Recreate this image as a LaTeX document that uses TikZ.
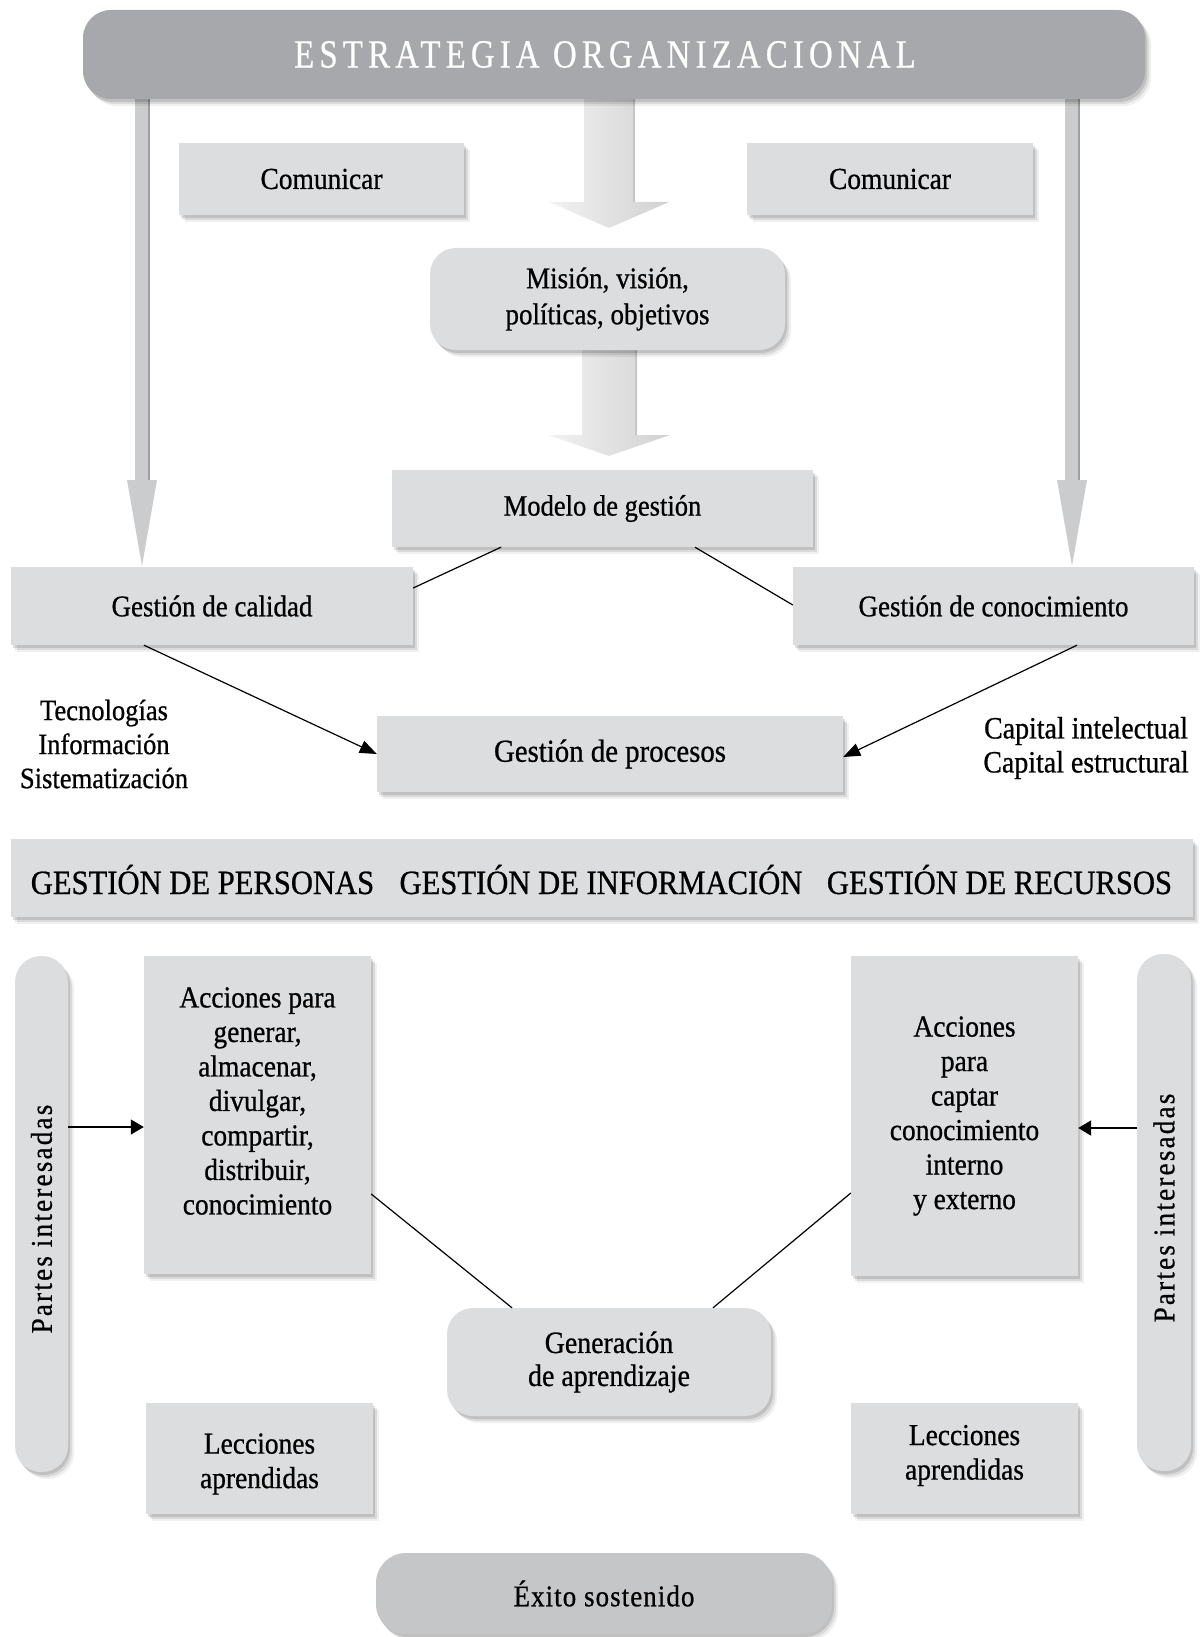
\documentclass[tikz,border=0pt]{standalone}
\usepackage{fontspec}
\setmainfont{Liberation Serif}[FakeStretch=0.9,FakeBold=0.7]
\newfontfamily\bannerfont{Liberation Serif}[FakeStretch=0.82,LetterSpace=13,FakeBold=0.5]
\newfontfamily\spacedfont{Liberation Serif}[FakeStretch=0.9,LetterSpace=7.5,FakeBold=0.7]
\newfontfamily\lightspaced{Liberation Serif}[FakeStretch=0.9,LetterSpace=3.5,FakeBold=0.7]
\usetikzlibrary{shadows,calc,arrows.meta}
\definecolor{boxgray}{RGB}{220,221,223}
\definecolor{bannergray}{RGB}{167,168,171}
\definecolor{exitogray}{RGB}{197,198,200}
\definecolor{thingray}{RGB}{203,204,206}
\definecolor{thinedge}{RGB}{158,159,162}
\newcommand{\fsz}[2]{\fontsize{#1}{#2}\selectfont}
\pgfdeclarelayer{bg}
\pgfsetlayers{bg,main}
\tikzset{
  softshadow/.style={
    drop shadow={shadow xshift=2pt,shadow yshift=-3pt,opacity=0.12,fill=black},
    drop shadow={shadow xshift=4pt,shadow yshift=-5pt,opacity=0.09,fill=black},
    drop shadow={shadow xshift=6pt,shadow yshift=-7pt,opacity=0.06,fill=black}},
  box/.style={softshadow, fill=boxgray, draw=none, inner sep=0pt, align=center, font={\fsz{30.5}{34.5}}},
  roundbox/.style={box, rounded corners=26pt},
  plain/.style={inner sep=0pt, align=center, font={\fsz{30.5}{34.5}}},
  conn/.style={line width=1.2pt, black},
  arr/.style={conn, -{Triangle[length=17pt,width=13pt]}},
  sidearr/.style={conn, -{Triangle[length=13pt,width=15pt]}},
  bigarrow/.style={left color=gray!10, right color=gray!36, draw=none},
}
\begin{document}
\begin{tikzpicture}[x=1pt,y=-1pt]
\useasboundingbox (0,0) rectangle (1200,1637);

% ---------- nodes ----------
\node[box, fill=bannergray, rounded corners=28pt, minimum width=1062pt, minimum height=89pt,
      text=white, font={\bannerfont\fsz{40}{42}}] (banner) at (614,54.5) {\hspace*{-18pt}ESTRATEGIA ORGANIZACIONAL};

\node[box, minimum width=285pt, minimum height=72pt] (com1) at (321.5,179) {Comunicar};
\node[box, minimum width=286pt, minimum height=72pt] (com2) at (890,179) {Comunicar};

\node[roundbox, minimum width=355pt, minimum height=102pt, font={\fsz{30}{36}}] (mision) at (607.5,299)
  {Misión, visión,\\políticas, objetivos};

\node[box, minimum width=421pt, minimum height=77pt, font={\fsz{29.5}{34}}] (modelo) at (602.5,508.5) {Modelo de gestión};

\node[box, minimum width=402pt, minimum height=78pt, font={\fsz{30}{34}}] (calidad) at (212,606) {Gestión de calidad};
\node[box, minimum width=401pt, minimum height=78pt, font={\fsz{30}{34}}] (conoc) at (993.5,606) {Gestión de conocimiento};

\node[box, minimum width=466pt, minimum height=76pt, font={\fsz{32}{34}}] (procesos) at (610,754) {Gestión de procesos};

\node[plain, font={\fsz{29.5}{34}}] (tec) at (104,744) {Tecnologías\\Información\\Sistematización};
\node[plain, font={\fsz{31}{34}}] (cap) at (1086,748) {Capital intelectual\\Capital estructural};

\node[box, minimum width=1182pt, minimum height=78pt] (gbar) at (602,878) {};
\node[plain, anchor=base, font={\fsz{34}{36}}] (g1) at (202.5,894) {GESTIÓN DE PERSONAS};
\node[plain, anchor=base, font={\fsz{34}{36}}] (g2) at (601,894) {GESTIÓN DE INFORMACIÓN};
\node[plain, anchor=base, font={\fsz{34}{36}}] (g3) at (999.5,894) {GESTIÓN DE RECURSOS};

\node[box, rounded corners=26pt, minimum width=53pt, minimum height=516pt] (pillL) at (41.5,1214) {};
\node[plain, rotate=90, font={\spacedfont\fsz{30}{34}}] (pLt) at (41.5,1219) {Partes interesadas};
\node[box, rounded corners=26pt, minimum width=54pt, minimum height=517pt] (pillR) at (1164,1212.5) {};
\node[plain, rotate=90, font={\spacedfont\fsz{30}{34}}] (pRt) at (1164,1208) {Partes interesadas};

\node[box, minimum width=227pt, minimum height=318pt] (accL) at (257.5,1115) {};
\node[plain] (accLt) at (257.5,1101)
  {Acciones para\\generar,\\almacenar,\\divulgar,\\compartir,\\distribuir,\\conocimiento};
\node[box, minimum width=227pt, minimum height=320pt] (accR) at (964.5,1116)
  {Acciones\\para\\captar\\conocimiento\\interno\\y externo};

\node[roundbox, minimum width=324pt, minimum height=108pt, font={\fsz{31}{33}}] (gen) at (609,1362)
  {Generación\\de aprendizaje};

\node[box, minimum width=227pt, minimum height=111pt] (lecL) at (259.5,1458.5) {};
\node[plain] (lecLt) at (259.5,1464) {Lecciones\\aprendidas};
\node[box, minimum width=227pt, minimum height=111pt] (lecR) at (964.5,1458.5) {};
\node[plain] (lecRt) at (964.5,1455.5) {Lecciones\\aprendidas};

\node[box, fill=exitogray, rounded corners=30pt, minimum width=456pt, minimum height=81pt,
      font={\lightspaced\fsz{30}{34}}] (exito) at (604,1593.5) {Éxito sostenido};

% ---------- decorative arrows (behind) ----------
\begin{pgfonlayer}{bg}
  % thin arrows from the banner
  \fill[thingray] (135,95) rectangle (150,482);
  \draw[thinedge, line width=2pt] (148.5,95) -- (148.5,482);
  \fill[thingray] (127,480) -- (157,480) -- (142,566) -- cycle;
  \fill[thingray] (1065,95) rectangle (1080,482);
  \draw[thinedge, line width=2pt] (1078.5,95) -- (1078.5,482);
  \fill[thingray] (1057,480) -- (1087,480) -- (1072,566) -- cycle;
  % big shaded arrows
  \path[bigarrow] (584,95) -- (635,95) -- (635,202) -- (669,202) -- (609,228) -- (549,202) -- (584,202) -- cycle;
  \draw[gray!45, line width=1.5pt] (634,95) -- (634,202);
  \path[bigarrow] (582,345) -- (637,345) -- (637,435) -- (670,435) -- (609,456) -- (548,435) -- (582,435) -- cycle;
  \draw[gray!45, line width=1.5pt] (636,345) -- (636,435);
\end{pgfonlayer}

% ---------- connectors ----------
\draw[conn] ($(modelo.south)+(-101.5,0)$) -- ($(calidad.east)+(0,-18)$);
\draw[conn] ($(modelo.south)+(92.5,0)$) -- ($(conoc.west)+(0,-1)$);
\draw[arr] ($(calidad.south)+(-68,0)$) -- (procesos.west);
\draw[arr] ($(conoc.south)+(83.5,0)$) -- ($(procesos.east)+(0,3)$);
\draw[sidearr] ($(pillL.east)+(0,-87)$) coordinate (pl) -- (pl -| accL.west);
\draw[sidearr, line width=2.2pt] ($(pillR.west)+(0,-84.5)$) coordinate (pr) -- (pr -| accR.east);
\draw[conn] ($(accL.east)+(0,79)$) -- ($(gen.north)+(-97,0)$);
\draw[conn] ($(accR.west)+(0,77)$) -- ($(gen.north)+(104,0)$);
\end{tikzpicture}
\end{document}
